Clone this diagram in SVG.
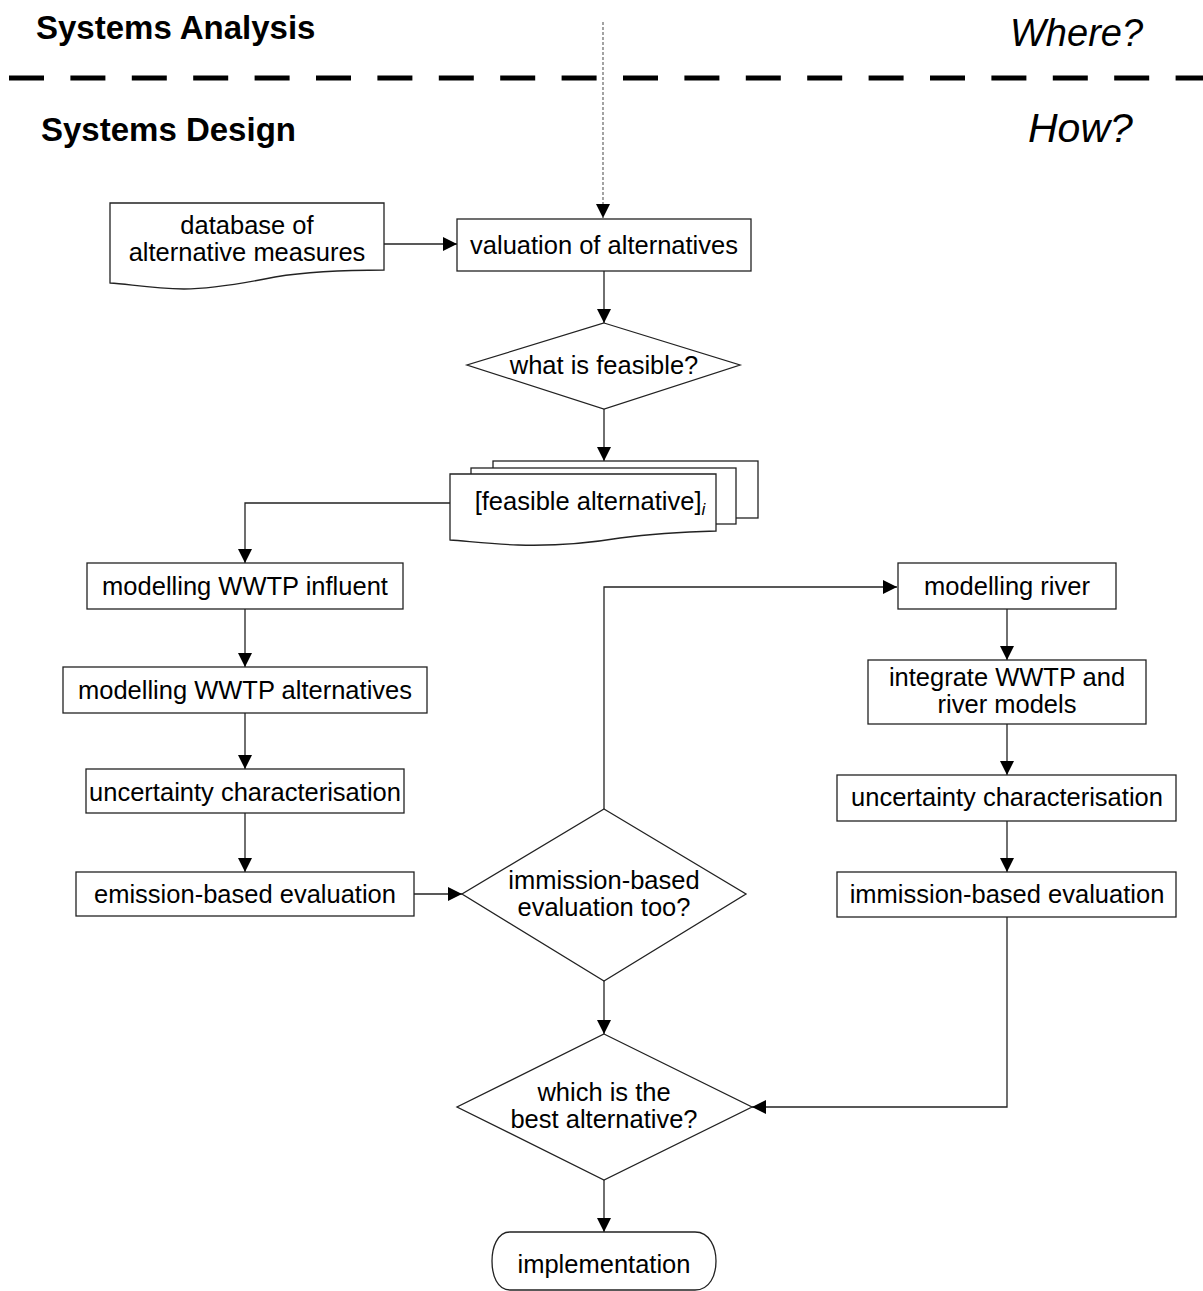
<svg xmlns="http://www.w3.org/2000/svg" width="1203" height="1291" viewBox="0 0 1203 1291">
<defs>
<marker id="ah" viewBox="0 0 10 10" refX="10" refY="5" markerWidth="14" markerHeight="14" markerUnits="userSpaceOnUse" orient="auto">
<path d="M0,0 L10,5 L0,10 z" fill="#000"/>
</marker>
<style>
.n{fill:#fff;stroke:#222;stroke-width:1.3}
.t{font-family:"Liberation Sans",Arial,sans-serif;font-size:25.5px;fill:#000;text-anchor:middle}
.h{font-family:"Liberation Sans",Arial,sans-serif;fill:#000}
.c{fill:none;stroke:#222;stroke-width:1.3;marker-end:url(#ah)}
</style>
</defs>
<rect width="1203" height="1291" fill="#fff"/>
<g id="headers">
<text class="h" x="36" y="39" font-size="33" font-weight="bold">Systems Analysis</text>
<text class="h" x="41" y="141" font-size="33" font-weight="bold">Systems Design</text>
<text class="h" x="1010" y="46" font-size="38" font-style="italic">Where?</text>
<text class="h" x="1028" y="142" font-size="41" font-style="italic">How?</text>
<line x1="9" y1="78" x2="1203" y2="78" stroke="#000" stroke-width="5" stroke-dasharray="35 26.4"/>
</g>
<g id="connectors">
<line x1="603" y1="22" x2="603" y2="218" stroke="#666" stroke-width="1.2" stroke-dasharray="3 2" fill="none" marker-end="url(#ah)"/>
<path class="c" d="M384,244 H457"/>
<path class="c" d="M604,271 V323"/>
<path class="c" d="M604,409 V461"/>
<path class="c" d="M450,503 H245 V563"/>
<path class="c" d="M245,609 V667"/>
<path class="c" d="M245,713 V769"/>
<path class="c" d="M245,813 V872"/>
<path class="c" d="M414,894 H462"/>
<path class="c" d="M604,809 V587 H897"/>
<path class="c" d="M1007,609 V660"/>
<path class="c" d="M1007,724 V775"/>
<path class="c" d="M1007,821 V872"/>
<path class="c" d="M1007,917 V1107 H752"/>
<path class="c" d="M604,981 V1034"/>
<path class="c" d="M604,1180 V1232"/>
</g>
<g id="database">
<path class="n" d="M110,203 H384 V270 C340,270 305,272 275,277 C245,283 212,289 184,289 C150,288 128,284 110,283 Z"/>
<text class="t" x="247" y="234">database of</text>
<text class="t" x="247" y="261">alternative measures</text>
</g>
<g id="valuation">
<rect class="n" x="457" y="219" width="294" height="52"/>
<text class="t" x="604" y="254">valuation of alternatives</text>
</g>
<g id="feasible">
<polygon class="n" points="604,323 740,365 604,409 467,365"/>
<text class="t" x="604" y="374">what is feasible?</text>
</g>
<g id="alternatives">
<rect class="n" x="493" y="461" width="265" height="57"/>
<rect class="n" x="471" y="468" width="265" height="56"/>
<path class="n" d="M450,474 H716 V531 C680,532 650,534 620,538 C590,543 550,546 518,545 C490,544 466,541 450,540 Z"/>
<text class="t" x="590" y="510">[feasible alternative]<tspan font-size="17" font-style="italic" dy="5">i</tspan></text>
</g>
<g id="influent">
<rect class="n" x="87" y="563" width="316" height="46"/>
<text class="t" x="245" y="595">modelling WWTP influent</text>
</g>
<g id="wwtp-alt">
<rect class="n" x="63" y="667" width="364" height="46"/>
<text class="t" x="245" y="699">modelling WWTP alternatives</text>
</g>
<g id="uncert-left">
<rect class="n" x="86" y="769" width="318" height="44"/>
<text class="t" x="245" y="801">uncertainty characterisation</text>
</g>
<g id="emission">
<rect class="n" x="76" y="872" width="338" height="44"/>
<text class="t" x="245" y="903">emission-based evaluation</text>
</g>
<g id="immission-q">
<polygon class="n" points="604,809 746,894 604,981 462,894"/>
<text class="t" x="604" y="889">immission-based</text>
<text class="t" x="604" y="916">evaluation too?</text>
</g>
<g id="river">
<rect class="n" x="898" y="563" width="218" height="46"/>
<text class="t" x="1007" y="595">modelling river</text>
</g>
<g id="integrate">
<rect class="n" x="868" y="660" width="278" height="64"/>
<text class="t" x="1007" y="686">integrate WWTP and</text>
<text class="t" x="1007" y="713">river models</text>
</g>
<g id="uncert-right">
<rect class="n" x="837" y="775" width="339" height="46"/>
<text class="t" x="1007" y="806">uncertainty characterisation</text>
</g>
<g id="immission-eval">
<rect class="n" x="837" y="872" width="339" height="45"/>
<text class="t" x="1007" y="903">immission-based evaluation</text>
</g>
<g id="best">
<polygon class="n" points="604,1034 752,1107 604,1180 457,1107"/>
<text class="t" x="604" y="1101">which is the</text>
<text class="t" x="604" y="1128">best alternative?</text>
</g>
<g id="implementation">
<path class="n" d="M510,1232 H695 C710,1232 716,1248 716,1261 C716,1275 710,1290 695,1290 H510 C497,1290 492,1275 492,1261 C492,1248 497,1232 510,1232 Z"/>
<text class="t" x="604" y="1273">implementation</text>
</g>
</svg>
